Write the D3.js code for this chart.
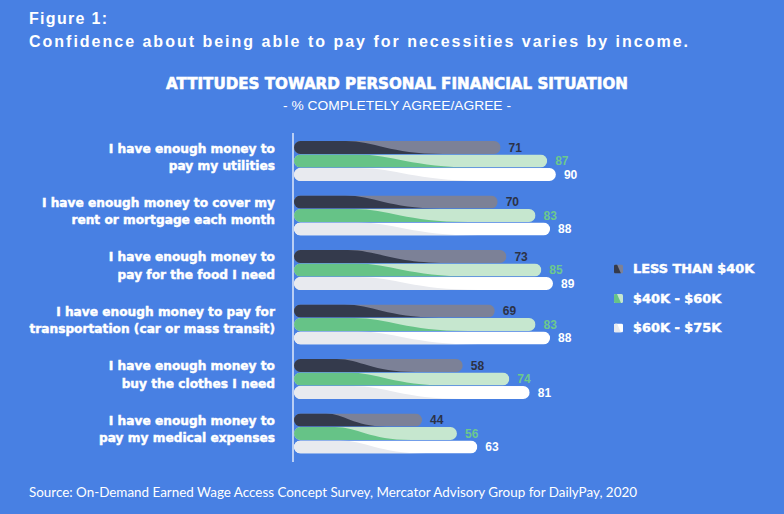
<!DOCTYPE html>
<html>
<head>
<meta charset="utf-8">
<script src="https://cdn.jsdelivr.net/npm/d3@7"></script>
<style>
  html, body { margin: 0; padding: 0; background: #4880e3; }
  svg { display: block; }
</style>
</head>
<body>
<svg id="chart" width="784" height="514"></svg>
<script>
// chart values
const categories = [
  ["I have enough money to", "pay my utilities"],
  ["I have enough money to cover my", "rent or mortgage each month"],
  ["I have enough money to", "pay for the food I need"],
  ["I have enough money to pay for", "transportation (car or mass transit)"],
  ["I have enough money to", "buy the clothes I need"],
  ["I have enough money to", "pay my medical expenses"]
];
const seriesNames = ["LESS THAN $40K", "$40K - $60K", "$60K - $75K"];
const lessThan40k = [71, 70, 73, 69, 58, 44];
const from40to60k = [87, 83, 85, 83, 74, 56];
const from60to75k = [90, 88, 89, 88, 81, 63];

const series = [lessThan40k, from40to60k, from60to75k];

const colors = [
  {dark: "#343a4c", light: "#7c8197", label: "#2c3246"},
  {dark: "#66c387", light: "#c6e7cf", label: "#6cc88e"},
  {dark: "#e8eaef", light: "#ffffff", label: "#ffffff"}
];

const svg = d3.select("#chart");
const heavy = "'DejaVu Sans', sans-serif";

svg.append("rect")
  .attr("width", 784).attr("height", 514)
  .attr("fill", "#4880e3");

// titles
svg.append("text")
  .attr("x", 29).attr("y", 24)
  .attr("fill", "#fff")
  .style("font", "bold 16px 'Liberation Sans', Arial, sans-serif")
  .style("letter-spacing", "1.3px")
  .text("Figure 1:");

svg.append("text")
  .attr("x", 29).attr("y", 47)
  .attr("fill", "#fff")
  .attr("textLength", 659)
  .attr("lengthAdjust", "spacing")
  .style("font", "bold 16px 'Liberation Sans', Arial, sans-serif")
  .text("Confidence about being able to pay for necessities varies by income.");

svg.append("text")
  .attr("x", 166).attr("y", 89)
  .attr("fill", "#fff")
  .attr("stroke", "#fff")
  .attr("stroke-width", 0.6)
  .attr("textLength", 462)
  .attr("lengthAdjust", "spacingAndGlyphs")
  .style("font-family", heavy)
  .style("font-weight", "bold")
  .style("font-size", "15.5px")
  .text("ATTITUDES TOWARD PERSONAL FINANCIAL SITUATION");

svg.append("text")
  .attr("x", 283).attr("y", 110)
  .attr("fill", "#fff")
  .attr("textLength", 228)
  .attr("lengthAdjust", "spacingAndGlyphs")
  .style("font", "13px 'Liberation Sans Narrow', 'Liberation Sans', sans-serif")
  .text("- % COMPLETELY AGREE/AGREE -");

svg.append("text")
  .attr("x", 29).attr("y", 497)
  .attr("fill", "#fff")
  .attr("textLength", 608)
  .attr("lengthAdjust", "spacingAndGlyphs")
  .style("font", "13px Lato, 'Open Sans', sans-serif")
  .text("Source: On-Demand Earned Wage Access Concept Survey, Mercator Advisory Group for DailyPay, 2020");

// scales
const x = d3.scaleLinear().domain([0, 100]).range([294, 585]);

const y = d3.scaleBand()
  .domain(d3.range(categories.length))
  .range([141, 453.5])
  .paddingInner(0.266)
  .paddingOuter(0);

const ySub = d3.scaleBand()
  .domain(d3.range(series.length))
  .range([0, y.bandwidth()])
  .paddingInner(0.04);

// axis line
svg.append("line")
  .attr("x1", 293).attr("x2", 293)
  .attr("y1", 133).attr("y2", 462)
  .attr("stroke", "#dfe8fb")
  .attr("stroke-width", 1.5);

// category labels
const labels = svg.append("g")
  .selectAll("text")
  .data(categories)
  .join("text")
  .attr("text-anchor", "end")
  .attr("fill", "#fff")
  .attr("stroke", "#fff")
  .attr("stroke-width", 0.45)
  .style("font-family", heavy)
  .style("font-weight", "bold")
  .style("font-size", "12.2px");

labels.selectAll("tspan")
  .data((d, i) => d.map(line => ({line: line, i: i})))
  .join("tspan")
  .attr("x", 275)
  .attr("y", (d, j) => y(d.i) + 11.5 + j * 17.5)
  .text(d => d.line);

// bars
const defs = svg.append("defs");
const barsG = svg.append("g");
const bh = ySub.bandwidth();

categories.forEach(function(c, i) {
  series.forEach(function(values, s) {
    const v = values[i];
    const x0 = x(0);
    const x1 = x(v);
    const len = x1 - x0;
    const top = y(i) + ySub(s);
    const bottom = top + bh;
    const id = "clip-" + i + "-" + s;

    defs.append("clipPath").attr("id", id)
      .append("rect")
      .attr("x", x0).attr("y", top)
      .attr("width", len).attr("height", bh)
      .attr("rx", bh / 2);

    const g = barsG.append("g").attr("clip-path", "url(#" + id + ")");

    g.append("rect")
      .attr("x", x0).attr("y", top)
      .attr("width", len).attr("height", bh)
      .attr("fill", colors[s].light);

    const a = x0 + len * 0.25;
    const b = x0 + len * 0.72;
    const p = d3.path();
    p.moveTo(x0, top);
    p.lineTo(a, top);
    p.bezierCurveTo(a + (b - a) * 0.3, top, a + (b - a) * 0.45, bottom, b, bottom);
    p.lineTo(x0, bottom);
    p.closePath();

    g.append("path")
      .attr("d", p.toString())
      .attr("fill", colors[s].dark);

    barsG.append("text")
      .attr("x", x1 + 8)
      .attr("y", top + bh / 2)
      .attr("dy", "0.36em")
      .attr("fill", colors[s].label)
      .style("font", "bold 12px 'Liberation Sans', Arial, sans-serif")
      .text(v);
  });
});

// legend
const legend = svg.append("g")
  .selectAll("g")
  .data(seriesNames)
  .join("g")
  .attr("transform", (d, i) => "translate(614," + (264.5 + i * 29.5) + ")");

legend.each(function(d, i) {
  const g = d3.select(this);
  const lid = "legend-clip-" + i;
  defs.append("clipPath").attr("id", lid)
    .append("rect").attr("width", 9).attr("height", 9).attr("rx", 1.5);
  const icon = g.append("g").attr("clip-path", "url(#" + lid + ")");
  icon.append("rect").attr("width", 9).attr("height", 9).attr("fill", colors[i].light);
  icon.append("path").attr("d", "M0,0L3,0L7,9L0,9Z").attr("fill", colors[i].dark);
  g.append("text")
    .attr("x", 19).attr("y", 8.8)
    .attr("fill", "#fff")
    .attr("stroke", "#fff")
    .attr("stroke-width", 0.45)
    .style("font-family", heavy)
    .style("font-weight", "bold")
    .style("font-size", "12.9px")
    .text(d);
});
</script>
</body>
</html>
